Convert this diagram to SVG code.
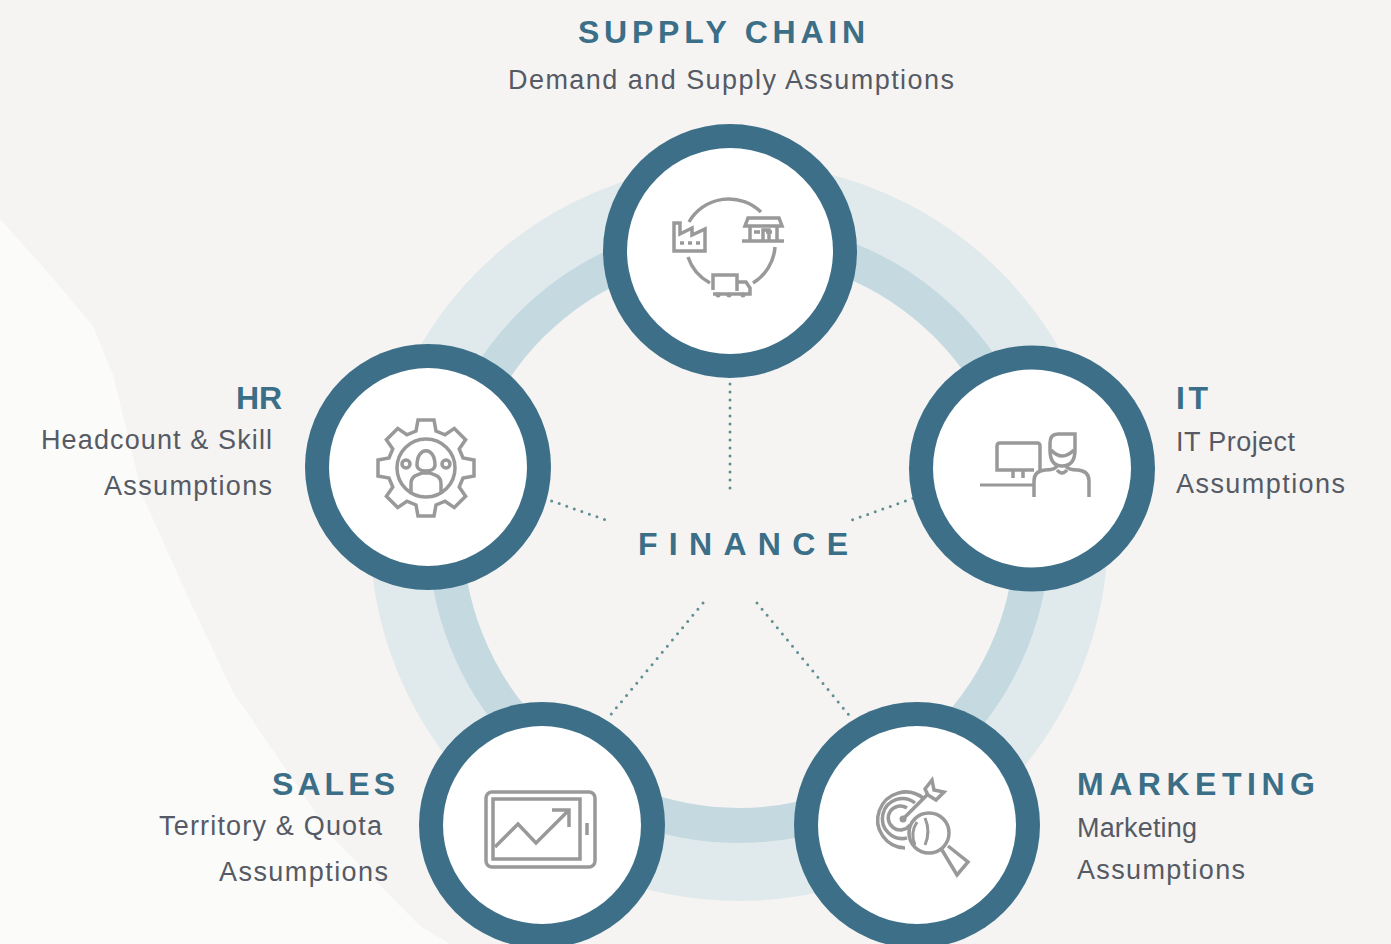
<svg xmlns="http://www.w3.org/2000/svg" width="1391" height="944" viewBox="0 0 1391 944">
<style>
text{font-family:"Liberation Sans",Arial,sans-serif}
.h{font-weight:700;font-size:32px;fill:#3b6e87}
.s{font-size:27px;fill:#555a65}
.ro{fill:#3d7088}
.ri{fill:#fff}
.ic{fill:none;stroke:#999;stroke-width:3.5;stroke-linejoin:miter}
.d{fill:none;stroke:#5f8f92;stroke-width:3;stroke-linecap:round;stroke-dasharray:0 8}
</style>
<rect width="1391" height="944" fill="#f5f4f2"/>
<path d="M0,219 L50,275 L93,326 L113,375 L143,497 L187,595 L233,692 L333,838 L420,926 L450,944 L0,944Z" fill="#fbfbfa"/>
<g id="rings" fill="none">
<circle cx="739" cy="532" r="340" stroke="#e0e9ec" stroke-width="58"/>
<circle cx="739" cy="532" r="293.500" stroke="#c5d9e1" stroke-width="35"/>
</g>
<g id="connectors">
<path class="d" d="M730,368V490"/>
<path class="d" d="M529,493L606,520"/>
<path class="d" d="M928,493L852,520"/>
<path class="d" d="M703,603L608,718"/>
<path class="d" d="M757,603L853,720"/>
</g>
<g id="supply-chain">
<circle class="ro" cx="730" cy="251" r="127"/><circle class="ri" cx="730" cy="251" r="103"/>
<g class="ic">
<path d="M689,222A46,46 0 0 1 761,212M775,247A46,46 0 0 1 753,283M710,283A46,46 0 0 1 688,257"/>
<path d="M674,223H680V234L692,228V235L705,229V251H674Z"/>
<path d="M680,243H684M688,243H692M696,243H700"/>
<path d="M750,225V240M777,225V240M742,241H784M748,218H779L782,226H745Z"/>
<path d="M754,232H760M772,232H766M763,240V230H769V240"/>
<path d="M713,290V275H737V291M737,282H746L750,288V294H713"/>
</g>
<circle cx="718" cy="295" r="2.500" fill="#999"/><circle cx="729" cy="295" r="2.500" fill="#999"/><circle cx="743" cy="295" r="2.500" fill="#999"/>
</g>
<g id="hr">
<circle class="ro" cx="428" cy="467" r="123"/><circle class="ri" cx="428" cy="467" r="99"/>
<g class="ic" transform="translate(426,468)">
<path d="M-10,-37L-8,-48H8L10,-37L19.100,-33.200L28.300,-39.600L39.600,-28.300L33.200,-19.100L37,-10L48,-8V8L37,10L33.200,19.100L39.600,28.300L28.300,39.600L19.100,33.200L10,37L8,48H-8L-10,37L-19.100,33.200L-28.300,39.600L-39.600,28.300L-33.200,19.100L-37,10L-48,8V-8L-37,-10L-33.200,-19.100L-39.600,-28.300L-28.300,-39.600L-19.100,-33.200Z"/>
<circle r="29"/>
<circle cx="-20" cy="-4" r="4"/><circle cx="20" cy="-4" r="4"/>
<path d="M-9,-3C-9,-22 9,-22 9,-3C9,5 -9,5 -9,-3M-15,24V16C-15,7 -8,7 -4,5H4C8,7 15,7 15,16V24"/>
</g>
</g>
<g id="it">
<circle class="ro" cx="1032" cy="468.500" r="123"/><circle class="ri" cx="1032" cy="468.500" r="99"/>
<g class="ic">
<path d="M1040,470V446Q1040,443 1037,443H1000Q997,443 997,446V470H1034"/>
<path d="M1013,471V478M1023,471V478"/>
<path d="M980,485H1033" stroke-width="3"/>
<path d="M1034,497V481Q1034,471 1045,470Q1055,470 1057,466M1089,497V481Q1089,471 1078,470Q1068,470 1066,466M1057,470Q1062,476 1067,470"/>
<path d="M1075,434H1058Q1050,434 1050,443V450Q1050,466 1062,466Q1075,466 1075,450Z"/>
<path d="M1051,450Q1062,462 1074,450"/>
</g>
</g>
<g id="sales">
<circle class="ro" cx="542" cy="825" r="123"/><circle class="ri" cx="542" cy="825" r="99"/>
<g class="ic">
<rect x="486" y="792" width="109" height="75" rx="6"/>
<rect x="493" y="799" width="87" height="60"/>
<path d="M587,823V835"/>
<path d="M495,847L518,824L536,843L569,810M552,810H569V827"/>
</g>
</g>
<g id="marketing">
<circle class="ro" cx="917" cy="825" r="123"/><circle class="ri" cx="917" cy="825" r="99"/>
<g class="ic">
<path d="M923,798A28,28 0 1 0 905,848M915,803A20,20 0 1 0 907,838M907,808A12,12 0 1 0 910,825"/>
<path d="M917,822A24,24 0 0 0 915,845M925,818A34,34 0 0 1 925,845" stroke-width="3"/>
<path d="M903,819L928,794"/>
<path d="M925,789L932,780L934,790L944,792L936,800L928,795Z"/>
<circle cx="929" cy="833" r="20"/>
<path d="M942,850L957,875L968,862L948,846"/>
</g>
<circle cx="903" cy="819" r="3.500" fill="#999"/>
</g>
<g id="labels">
<text class="h" x="578" y="43" textLength="287">SUPPLY CHAIN</text>
<text class="s" x="508" y="89" textLength="446">Demand and Supply Assumptions</text>
<text class="h" x="236" y="409" textLength="46">HR</text>
<text class="s" x="41" y="449" textLength="231">Headcount &amp; Skill</text>
<text class="s" x="104" y="495" textLength="168">Assumptions</text>
<text class="h" x="1176" y="409" textLength="32">IT</text>
<text class="s" x="1176" y="451" textLength="119">IT Project</text>
<text class="s" x="1176" y="493" textLength="169">Assumptions</text>
<text class="h" x="638" y="555" textLength="210">FINANCE</text>
<text class="h" x="272" y="795" textLength="123">SALES</text>
<text class="s" x="159" y="835" textLength="223">Territory &amp; Quota</text>
<text class="s" x="219" y="881" textLength="169">Assumptions</text>
<text class="h" x="1077" y="795" textLength="238">MARKETING</text>
<text class="s" x="1077" y="837" textLength="120">Marketing</text>
<text class="s" x="1077" y="879" textLength="168">Assumptions</text>
</g>
</svg>
